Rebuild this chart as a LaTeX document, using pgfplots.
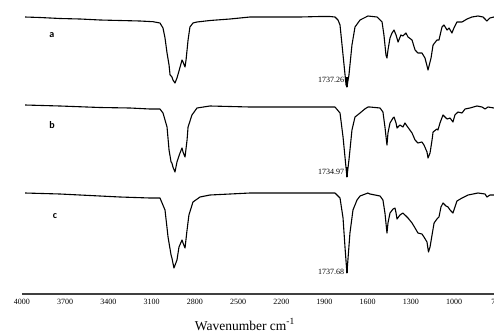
\documentclass[border=0pt]{standalone}
\usepackage{fontspec}
\setmainfont{Liberation Serif}
\newfontfamily\labfont{Carlito}
\usepackage{pgfplots}
\pgfplotsset{compat=1.18}
\tikzset{spec/.style={black, no markers, line width=1.1pt, line join=round}}
\begin{document}
\begin{tikzpicture}
\begin{axis}[
  at={(0,0)}, anchor=south west,
  scale only axis, width=475.3pt, height=294pt,
  xmin=700, xmax=4000, ymin=39, ymax=333,
  x dir=reverse,
  axis x line*=bottom, axis y line=none,
  x axis line style={line width=2.2pt, black!75},
  xtick={4000,3700,3400,3100,2800,2500,2200,1900,1600,1300,1000,700},
  major tick length=0pt,
  /pgf/number format/assume math mode=true,
  /pgf/number format/set thousands separator={},
  xticklabel style={font=\fontsize{8}{9}\selectfont, yshift=-1.5pt},
  xlabel={Wavenumber cm\textsuperscript{-1}},
  xlabel style={font=\fontsize{13.5}{15}\selectfont, at={(axis description cs:0.469,0)}, anchor=north, yshift=-21pt},
]
% curve a
\addplot[spec] coordinates {
(3979,316)(3875,315.5)(3736,314.5)(3597,314)(3458,313)(3320,312.5)(3181,312)(3090,311.3)(3042,310)(3021,305)(3007,295)(2993,280)(2979,268)(2972,258)(2965,257)(2959,256)(2952,253)(2938,250)(2924,255)(2910,262)(2889,273)(2882,271)(2868,266)(2861,273)(2847,293)(2834,306)(2813,310)(2785,311)(2695,312.5)(2556,314)(2417,316)(2209,316)(2070,316)(1931,316.5)(1862,316.5)(1827,316)(1806,313)(1792,308)(1771,278)(1750,248)(1744,246)(1730,258)(1709,288)(1688,306)(1653,313)(1598,317)(1535,316)(1500,311)(1487,298)(1473,278)(1466,275)(1459,283)(1445,295)(1431,300)(1417,303)(1403,298)(1389,291)(1369,298)(1355,297)(1334,300)(1320,296)(1292,293)(1271,283)(1251,280)(1223,280)(1202,275)(1181,263)(1160,275)(1146,288)(1119,293)(1105,293)(1084,306)(1070,308)(1049,303)(1035,305)(1015,300)(1001,305)(980,311)(945,311)(910,314)(876,316)(834,317)(799,316)(772,312)(751,315)(723,316)(700,316)
};
% curve b
\addplot[spec] coordinates {
(3979,228)(3736,227)(3458,225.5)(3250,225)(3111,224)(3042,224)(3021,220)(2993,206)(2979,183)(2965,171)(2959,170)(2952,166)(2938,161)(2924,171)(2903,180)(2889,185)(2882,181)(2868,176)(2854,193)(2847,206)(2820,218)(2785,225)(2695,227)(2417,226)(2070,226)(1827,226)(1792,220)(1771,196)(1744,156)(1730,173)(1709,203)(1688,216)(1653,220)(1620,224)(1598,226)(1584,226)(1514,225)(1494,221)(1480,206)(1466,188)(1459,200)(1445,210)(1424,215)(1417,216)(1403,210)(1396,205)(1376,208)(1355,206)(1341,210)(1327,207)(1292,200)(1271,193)(1251,190)(1223,191)(1209,188)(1188,181)(1181,175)(1167,180)(1153,193)(1146,201)(1119,204)(1112,203)(1098,210)(1077,218)(1063,216)(1049,214)(1028,215)(1008,211)(994,218)(973,221)(945,220)(924,224)(890,225)(841,227)(806,226)(785,224)(765,226)(723,225)(700,225)
};
% curve c
\addplot[spec] coordinates {
(3979,140)(3736,139)(3458,137)(3320,136)(3111,135)(3042,135)(3007,123)(2986,96)(2965,78)(2959,75)(2945,65)(2924,73)(2910,86)(2889,93)(2882,90)(2868,85)(2854,103)(2841,118)(2813,131)(2764,136)(2695,138)(2417,140)(2070,140)(1827,140)(1792,135)(1771,115)(1757,85)(1744,60)(1723,100)(1702,123)(1674,133)(1653,137)(1598,140)(1584,139)(1514,137)(1494,133)(1480,120)(1466,100)(1459,110)(1445,120)(1424,124)(1410,125)(1403,120)(1396,114)(1376,118)(1355,120)(1341,118)(1320,115)(1292,110)(1271,105)(1251,100)(1223,99)(1209,96)(1188,91)(1178,81)(1167,86)(1153,98)(1139,110)(1119,114)(1105,116)(1091,126)(1077,130)(1056,127)(1042,126)(1028,123)(1008,120)(994,126)(980,132)(945,135)(903,138)(834,140)(785,139)(772,136)(751,138)(723,138)(700,138)
};
% thick tips of the carbonyl bands
\addplot[black, no markers, line width=2pt] coordinates {(1744,246)(1744,256)};
\addplot[black, no markers, line width=2pt] coordinates {(1744,156)(1744,166)};
\addplot[black, no markers, line width=2pt] coordinates {(1744,60)(1744,70)};
\node[font=\labfont\bfseries\fontsize{10}{11}\selectfont] at (axis cs:3792,298) {a};
\node[font=\labfont\bfseries\fontsize{10}{11}\selectfont] at (axis cs:3792,208) {b};
\node[font=\labfont\bfseries\fontsize{10}{11}\selectfont] at (axis cs:3771,117) {c};
\node[anchor=east, inner sep=0pt, font=\fontsize{8}{9}\selectfont] at (axis cs:1762,253) {1737.26};
\node[anchor=east, inner sep=0pt, font=\fontsize{8}{9}\selectfont] at (axis cs:1762,161) {1734.97};
\node[anchor=east, inner sep=0pt, font=\fontsize{8}{9}\selectfont] at (axis cs:1762,61) {1737.68};
\end{axis}
\pgfresetboundingbox
\path[use as bounding box] (-22pt,-39pt) rectangle (472pt,294pt);
\end{tikzpicture}
\end{document}
